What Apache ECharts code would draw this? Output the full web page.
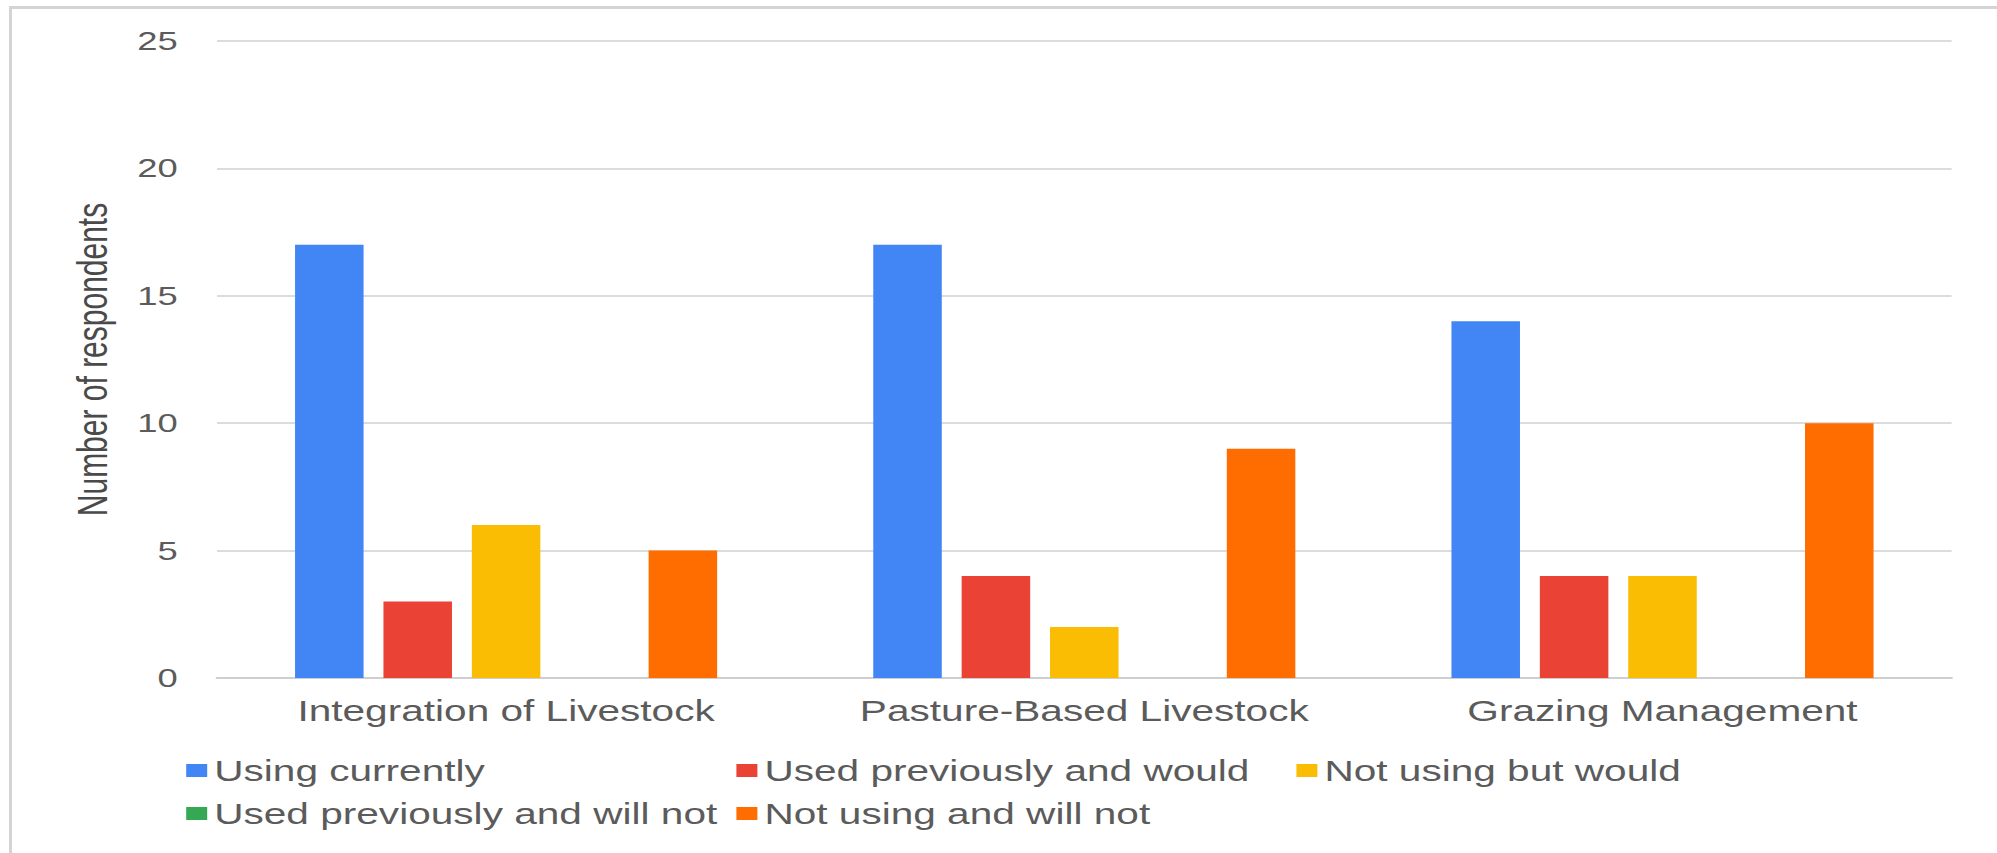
<!DOCTYPE html>
<html>
<head>
<meta charset="utf-8">
<title>Number of respondents by practice</title>
<script src="https://cdn.jsdelivr.net/npm/echarts@6/dist/echarts.min.js"></script>
<style>
  html, body { margin: 0; padding: 0; background: #ffffff; overflow: hidden; }
  #frame {
    position: absolute; left: 9px; top: 6px; width: 1990px; height: 860px;
    border-left: 3px solid #d4d4d4; border-top: 3px solid #d4d4d4;
    box-sizing: border-box;
  }
  /* the chart is laid out on a narrower canvas and widened horizontally */
  #chart {
    position: absolute; left: 0; top: 0;
    width: 1426.4px; height: 853px;
    transform: scaleX(1.4); transform-origin: 0 0;
  }
</style>
</head>
<body>
<div id="frame"></div>
<div id="chart"></div>
<script>
// Practices surveyed
const categories = ['Integration of Livestock', 'Pasture-Based Livestock', 'Grazing Management'];

// Responses per practice
const usingCurrently        = [17, 17, 14];
const usedPreviouslyWould   = [3, 4, 4];
const notUsingWould         = [6, 2, 4];
const usedPreviouslyWillNot = [0, 0, 0];
const notUsingWillNot       = [5, 9, 10];

// Series names, in legend order
const seriesNames = [
  'Using currently',
  'Used previously and would',
  'Not using but would',
  'Used previously and will not',
  'Not using and will not'
];

// Value axis ticks
const yMin = 0;
const yMax = 25;
const yStep = 5;

const seriesValues = [usingCurrently, usedPreviouslyWould, notUsingWould, usedPreviouslyWillNot, notUsingWillNot];
const palette = ['#4285F4', '#EA4335', '#FBBC04', '#34A853', '#FF6D01'];

const textColor = '#5b5b5b';
const fontFamily = '"Liberation Sans", Arial, sans-serif';

const legendCommon = {
  orient: 'vertical',
  icon: 'rect',
  itemWidth: 15,
  itemHeight: 13,
  itemGap: 14,
  padding: 0,
  selectedMode: false,
  textStyle: { color: textColor, fontSize: 29, fontFamily: fontFamily }
};

const chart = echarts.init(document.getElementById('chart'), null, { renderer: 'svg' });

chart.setOption({
  animation: false,
  backgroundColor: 'transparent',
  color: palette,
  grid: { left: 155, right: 32, top: 41, bottom: 175, containLabel: false },
  legend: [
    Object.assign({}, legendCommon, { left: 133, top: 756, data: [seriesNames[0], seriesNames[3]] }),
    Object.assign({}, legendCommon, { left: 526, top: 756, data: [seriesNames[1], seriesNames[4]] }),
    Object.assign({}, legendCommon, { left: 926, top: 756, data: [seriesNames[2]] })
  ],
  xAxis: {
    type: 'category',
    data: categories,
    axisTick: { show: false },
    axisLine: { lineStyle: { color: '#cfcfcf', width: 2 } },
    axisLabel: { interval: 0, color: textColor, fontSize: 29, fontFamily: fontFamily, margin: 18 }
  },
  yAxis: {
    type: 'value',
    min: yMin,
    max: yMax,
    interval: yStep,
    name: 'Number of respondents',
    nameLocation: 'middle',
    nameGap: 74,
    nameTextStyle: { color: '#4a4a4a', fontSize: 30, fontFamily: fontFamily },
    axisLine: { show: false },
    axisTick: { show: false },
    axisLabel: { color: textColor, fontSize: 26, fontFamily: fontFamily, margin: 28 },
    splitLine: { lineStyle: { color: '#dcdcdc', width: 2 } }
  },
  series: seriesNames.map(function (name, i) {
    return {
      name: name,
      type: 'bar',
      data: seriesValues[i],
      barGap: '29%',
      barCategoryGap: '27%',
      itemStyle: { color: palette[i] }
    };
  })
});
</script>
</body>
</html>
